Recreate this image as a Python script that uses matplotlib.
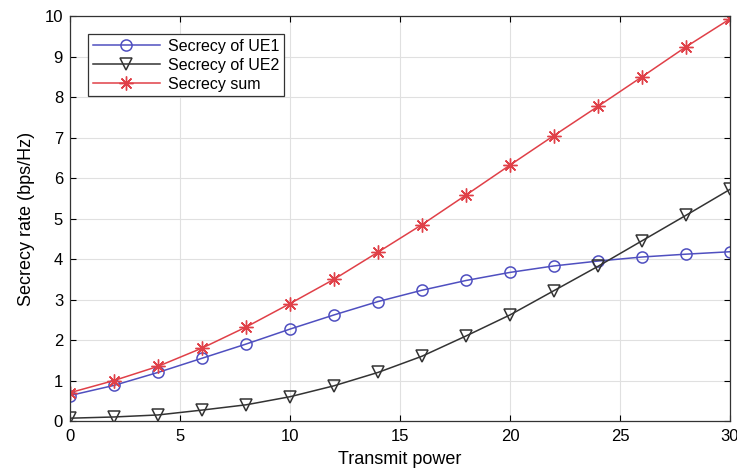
import matplotlib
matplotlib.use("Agg")
import matplotlib.pyplot as plt
import numpy as np

# Transmit power values
power = [0, 2, 4, 6, 8, 10, 12, 14, 16, 18, 20, 22, 24, 26, 28, 30]

# Secrecy rates (bps/Hz)
ue1 = [0.63, 0.88, 1.20, 1.55, 1.90, 2.27, 2.62, 2.95, 3.23, 3.47, 3.67, 3.83, 3.95, 4.05, 4.12, 4.18]
ue2 = [0.07, 0.10, 0.15, 0.27, 0.40, 0.60, 0.87, 1.20, 1.60, 2.10, 2.62, 3.22, 3.82, 4.45, 5.08, 5.72]
ssum = [0.70, 1.00, 1.35, 1.80, 2.32, 2.90, 3.50, 4.17, 4.85, 5.58, 6.32, 7.05, 7.77, 8.50, 9.24, 9.93]

xticks = [0, 5, 10, 15, 20, 25, 30]
yticks = list(range(0, 11))

plt.rcParams['font.family'] = ['Liberation Sans', 'DejaVu Sans']

fig = plt.figure(figsize=(7.37, 4.72), dpi=100)
ax = fig.add_axes([0.095, 0.108, 0.8955, 0.858])

ax.plot(power, ue1, color="#4f4fc0", lw=1.1, marker="o", ms=8, mfc="none", mec="#4f4fc0",
        mew=1.1, label="Secrecy of UE1")
ax.plot(power, ue2, color="#333333", lw=1.1, marker="v", ms=9, mfc="none", mec="#333333",
        mew=1.1, label="Secrecy of UE2")
# MATLAB-style asterisk marker
ax.plot(power, ssum, color="#e04048", lw=1.1, marker=(8, 2, 0), ms=10, mec="#e04048",
        mew=1.0, label="Secrecy sum")

ax.set_xlim(0, 30)
ax.set_ylim(0, 10)
ax.set_xticks(xticks)
ax.set_yticks(yticks)
ax.tick_params(direction="in", top=True, right=True, labelsize=12, length=4, width=0.8)
ax.tick_params(axis="x", pad=6)
ax.tick_params(axis="y", pad=5)
ax.grid(True, color="#e0e0e0", lw=0.8)
ax.set_axisbelow(True)
for s in ax.spines.values():
    s.set_color("#333333")
    s.set_linewidth(0.9)

ax.set_xlabel("Transmit power", fontsize=13, labelpad=5)
ax.set_ylabel("Secrecy rate (bps/Hz)", fontsize=13, labelpad=7)

leg = ax.legend(loc="upper left", bbox_to_anchor=(0.027, 0.956), borderaxespad=0,
                fontsize=11.5, fancybox=False, framealpha=1, edgecolor="#333333",
                handlelength=4.2, labelspacing=0.25, borderpad=0.3, handletextpad=0.5)
leg.get_frame().set_linewidth(0.9)

fig.savefig("out.png", dpi=100)
